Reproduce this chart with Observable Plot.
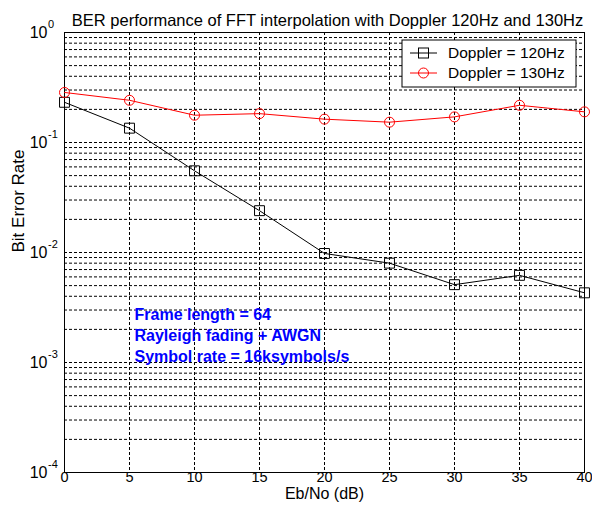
<!DOCTYPE html>
<html>
<head>
<meta charset="utf-8">
<script src="https://cdn.jsdelivr.net/npm/d3@7"></script>
<script src="https://cdn.jsdelivr.net/npm/@observablehq/plot@0.6"></script>
<style>
  body { margin: 0; background: #fff; }
  #chart { width: 592px; height: 512px; }
</style>
</head>
<body>
<div id="chart"></div>
<script>
// Eb/No sweep and measured bit error rates for the two Doppler settings
const ebno = [0, 5, 10, 15, 20, 25, 30, 35, 40];
const ber120 = [0.232, 0.135, 0.0553, 0.024, 0.0098, 0.0080, 0.0051, 0.0062, 0.0043];
const ber130 = [0.285, 0.242, 0.177, 0.183, 0.163, 0.153, 0.171, 0.218, 0.190];
const seriesNames = ["Doppler = 120Hz", "Doppler = 130Hz"];
const seriesColors = ["#000000", "#ff0000"];

const xTicks = [0, 5, 10, 15, 20, 25, 30, 35, 40];
const yDecades = [-4, -3, -2, -1, 0];
const notes = ["Frame length = 64", "Rayleigh fading + AWGN", "Symbol rate = 16ksymbols/s"];

const titleText = "BER performance of FFT interpolation with Doppler 120Hz and 130Hz";
const xLabel = "Eb/No (dB)";
const yLabel = "Bit Error Rate";

const rows120 = ebno.map((x, i) => ({x, y: ber120[i]}));
const rows130 = ebno.map((x, i) => ({x, y: ber130[i]}));

// minor log grid: 1..9 × 10^d inside each decade
const yGrid = [];
for (const d of yDecades.slice(0, -1)) for (let k = 1; k <= 9; k++) yGrid.push(k * 10 ** d);
const xGrid = xTicks.slice(1, -1);

const font = "'Liberation Sans Narrow', 'Arial Narrow', Arial, sans-serif";
const M = {left: 64, right: 8, top: 32, bottom: 40};

const plot = Plot.plot({
  width: 592,
  height: 512,
  marginLeft: M.left,
  marginRight: M.right,
  marginTop: M.top,
  marginBottom: M.bottom,
  style: {fontFamily: font, background: "#fff", overflow: "visible"},
  x: {domain: [0, 40], axis: null},
  y: {type: "log", domain: [1e-4, 1], axis: null},
  marks: [
    Plot.ruleY(yGrid.slice(1), {stroke: "#000", strokeWidth: 1, strokeDasharray: "3,2"}),
    Plot.ruleX(xGrid, {stroke: "#000", strokeWidth: 1, strokeDasharray: "3,2"}),
    Plot.frame({stroke: "#000", strokeWidth: 1}),
    // x tick labels
    Plot.text(xTicks, {x: d => d, frameAnchor: "bottom", dy: 9, text: d => String(d), fontSize: 14.5, fill: "#000"}),
    // y tick labels: base 10 with a raised exponent
    Plot.text(yDecades, {y: d => 10 ** d, frameAnchor: "left", dx: -17, textAnchor: "end", text: () => "10", fontSize: 16, fill: "#000"}),
    Plot.text(yDecades, {y: d => 10 ** d, frameAnchor: "left", dx: -16.5, dy: -8, textAnchor: "start", text: d => String(d), fontSize: 11, fill: "#000"}),
    // axis titles and chart title
    Plot.text([titleText], {frameAnchor: "top", dx: 3, dy: -18, text: d => d, fontSize: 16.5, fill: "#000"}),
    Plot.text([xLabel], {frameAnchor: "bottom", dy: 26, text: d => d, fontSize: 16, fill: "#000"}),
    Plot.text([yLabel], {frameAnchor: "left", dx: -45.5, rotate: -90, text: d => d, fontSize: 17, fill: "#000"}),
    // series
    Plot.line(rows120, {x: "x", y: "y", stroke: seriesColors[0], strokeWidth: 1}),
    Plot.dot(rows120, {x: "x", y: "y", symbol: "square", r: 5.6, stroke: seriesColors[0], fill: "none", strokeWidth: 1}),
    Plot.line(rows130, {x: "x", y: "y", stroke: seriesColors[1], strokeWidth: 1}),
    Plot.dot(rows130, {x: "x", y: "y", symbol: "circle", r: 5, stroke: seriesColors[1], fill: "none", strokeWidth: 1}),
    // annotation
    Plot.text([notes.join("\n")], {x: 5, y: 0.0018, dx: 5, textAnchor: "start", lineAnchor: "middle", lineHeight: 1.31, text: d => d, fontSize: 16, fontWeight: "bold", fill: "#0000ff"})
  ]
});

// legend box in the upper-right corner of the frame
const svg = d3.select(plot);
const frameRight = 592 - M.right, frameTop = M.top;
const lg = svg.append("g").attr("transform", `translate(${frameRight - 182},${frameTop + 8})`);
lg.append("rect").attr("width", 174).attr("height", 47).attr("fill", "#fff").attr("stroke", "#000");
seriesNames.forEach((name, i) => {
  const y = 13 + i * 20;
  const g = lg.append("g").attr("transform", `translate(0,${y})`);
  g.append("line").attr("x1", 8).attr("x2", 35).attr("y1", 0).attr("y2", 0).attr("stroke", seriesColors[i]);
  if (i === 0) g.append("rect").attr("x", 16.5).attr("y", -5).attr("width", 10).attr("height", 10).attr("fill", "none").attr("stroke", seriesColors[i]);
  else g.append("circle").attr("cx", 21.5).attr("cy", 0).attr("r", 5).attr("fill", "none").attr("stroke", seriesColors[i]);
  g.append("text").attr("x", 46).attr("dy", "0.35em").attr("text-anchor", "start")
    .attr("font-size", 15.5).attr("fill", "#000").text(name);
});

document.getElementById("chart").appendChild(plot);
</script>
</body>
</html>
